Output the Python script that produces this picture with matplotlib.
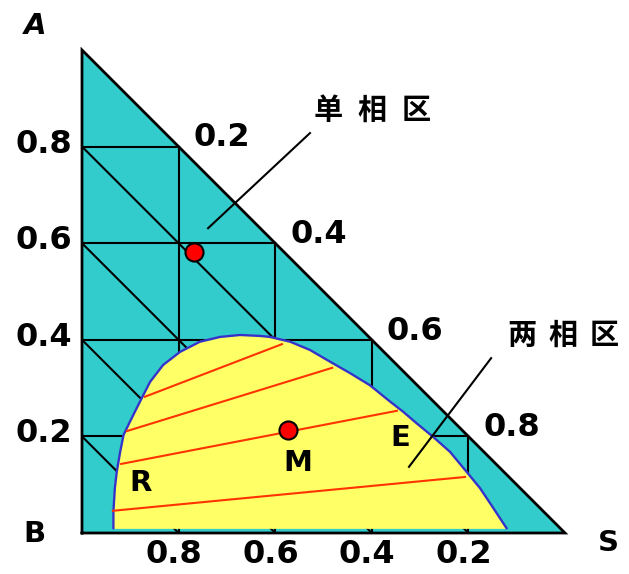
import matplotlib.pyplot as plt
import numpy as np

# Ternary diagram A-B-S drawn as a right triangle: x = S fraction, y = A fraction
grid_levels = [0.2, 0.4, 0.6, 0.8]
left_labels = ['0.2', '0.4', '0.6', '0.8']        # A fraction
bottom_labels = ['0.8', '0.6', '0.4', '0.2']      # B fraction at x = 0.2 .. 0.8
hyp_labels = ['0.2', '0.4', '0.6', '0.8']         # S fraction on the hypotenuse

# Binodal (solubility) curve, S fraction / A fraction
binodal_s = [0.065, 0.065, 0.068, 0.072, 0.079, 0.086, 0.099, 0.120, 0.141, 0.168,
             0.203, 0.244, 0.286, 0.327, 0.369, 0.389, 0.431, 0.472, 0.513, 0.555,
             0.596, 0.638, 0.665, 0.693, 0.727, 0.762, 0.796, 0.824, 0.852, 0.879]
binodal_a = [0.010, 0.044, 0.093, 0.127, 0.168, 0.203, 0.230, 0.272, 0.313, 0.348,
             0.375, 0.396, 0.406, 0.410, 0.408, 0.406, 0.396, 0.379, 0.355, 0.331,
             0.306, 0.272, 0.251, 0.227, 0.199, 0.168, 0.127, 0.093, 0.051, 0.010]

# Tie lines: raffinate end (R side) -> extract end (E side)
tie_r_s = [0.130, 0.093, 0.081, 0.064]
tie_r_a = [0.282, 0.211, 0.143, 0.046]
tie_e_s = [0.414, 0.518, 0.652, 0.793]
tie_e_a = [0.391, 0.342, 0.253, 0.116]

# Mixture points: one in the single-phase region, M in the two-phase region
point_s = [0.232, 0.427]
point_a = [0.582, 0.213]

TEAL = '#33CCCC'
YELLOW = '#FFFF66'
BLUE = '#3333CC'
RED = '#FF3300'

W, H = 629, 574
fig = plt.figure(figsize=(W / 100, H / 100), dpi=100)
ox, oy, unit = 82, 533, 483
ax = fig.add_axes([ox / W, (H - oy) / H, unit / W, unit / H])
ax.set_xlim(0, 1)
ax.set_ylim(0, 1)
ax.axis('off')

lw = 1.5
# triangle body
ax.fill([0, 1, 0], [0, 0, 1], color=TEAL, zorder=1)

# composition grid
for v in grid_levels:
    ax.plot([0, 1 - v], [v, v], color='black', lw=lw, zorder=2)   # constant A
    ax.plot([v, v], [0, 1 - v], color='black', lw=lw, zorder=2)   # constant S
    ax.plot([0, v], [v, 0], color='black', lw=lw, zorder=2)       # constant B

# two-phase region
ax.fill(binodal_s, binodal_a, color=YELLOW, zorder=3)
ax.plot(binodal_s, binodal_a, color=BLUE, lw=1.7, zorder=4, solid_joinstyle='round')

for rs, ra, es, ea in zip(tie_r_s, tie_r_a, tie_e_s, tie_e_a):
    ax.plot([rs, es], [ra, ea], color=RED, lw=lw, zorder=4)

ax.plot([0, 1, 0, 0], [0, 0, 1, 0], color='black', lw=2, zorder=5,
        solid_joinstyle='miter', clip_on=False)

ax.plot(point_s, point_a, 'o', ms=13, mfc='red', mec='black', mew=1.5, zorder=6)

# tick labels
tick_font = dict(fontsize=23, fontweight='bold', family='DejaVu Sans',
                 ha='center', va='center')
for v, t in zip(grid_levels, left_labels):
    ax.text(-0.079, v + 0.005, t, **tick_font)
for v, t in zip(grid_levels, bottom_labels):
    ax.text(v - 0.01, -0.045, t, **tick_font)
for v, t in zip(grid_levels, hyp_labels):
    ax.text(v + 0.09, 1 - v + 0.018, t, **tick_font)

# vertex and point labels
lab_font = dict(fontsize=21, fontweight='bold', family='DejaVu Sans',
                ha='center', va='center')
ax.text(-0.097, 1.050, 'A', style='italic', **lab_font)
ax.text(-0.099, -0.002, 'B', **lab_font)
ax.text(1.089, -0.021, 'S', **lab_font)
ax.text(0.122, 0.104, 'R', **lab_font)
ax.text(0.447, 0.145, 'M', **lab_font)
ax.text(0.658, 0.197, 'E', **lab_font)

# region labels with leader lines
cjk = dict(fontsize=21, fontweight='heavy', family=['Noto Sans CJK SC', 'DejaVu Sans'],
           ha='center', va='center')
for i, ch in enumerate('单相区'):
    ax.text(0.509 + i * 0.091, 0.876, ch, **cjk)
for i, ch in enumerate('两相区'):
    ax.text(0.911 + i * 0.085, 0.410, ch, **cjk)
ax.plot([0.472, 0.261], [0.828, 0.631], color='black', lw=lw, zorder=7, clip_on=False)
ax.plot([0.847, 0.677], [0.362, 0.137], color='black', lw=lw, zorder=7, clip_on=False)

fig.savefig('out.png', dpi=100)
